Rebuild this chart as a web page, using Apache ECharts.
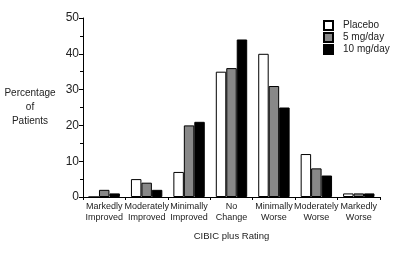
<!DOCTYPE html>
<html>
<head>
<meta charset="UTF-8">
<title>CIBIC plus Rating</title>
<script src="https://cdn.jsdelivr.net/npm/echarts@6/dist/echarts.min.js"></script>
<style>
  html, body { margin: 0; padding: 0; background: #fff; }
  #main { width: 400px; height: 253px; }
</style>
</head>
<body>
<div id="main"></div>
<script>
  // data
  var categories = ['Markedly\nImproved', 'Moderately\nImproved', 'Minimally\nImproved', 'No\nChange',
                    'Minimally\nWorse', 'Moderately\nWorse', 'Markedly\nWorse'];
  var placebo = [0, 5, 7, 35, 40, 12, 1];
  var mg5     = [2, 4, 20, 36, 31, 8, 1];
  var mg10    = [1, 2, 21, 44, 25, 6, 1];
  var yTicks  = [0, 10, 20, 30, 40, 50];

  var font = '"Liberation Sans", Arial, sans-serif';

  var chart = echarts.init(document.getElementById('main'));

  function bar(name, data, fill) {
    return {
      name: name,
      type: 'bar',
      data: data,
      barGap: '0%',
      barCategoryGap: '26%',
      itemStyle: { color: fill, borderColor: '#000', borderWidth: 1 },
      emphasis: { disabled: true }
    };
  }

  var option = {
    animation: false,
    textStyle: { fontFamily: font },
    grid: { left: 83, right: 20, top: 18, bottom: 56, containLabel: false },
    legend: {
      orient: 'vertical',
      left: 318,
      top: 15,
      itemWidth: 9,
      itemHeight: 9,
      itemGap: 1,
      icon: 'rect',
      textStyle: { fontFamily: font, fontSize: 10, color: '#222', padding: [0, 0, 0, 5] },
      data: ['Placebo', '5 mg/day', '10 mg/day']
    },
    xAxis: {
      type: 'category',
      data: categories,
      name: 'CIBIC plus Rating',
      nameLocation: 'middle',
      nameGap: 34,
      nameTextStyle: { fontFamily: font, fontSize: 9.5, color: '#222' },
      axisLine: { lineStyle: { color: '#000', width: 1 } },
      axisTick: { show: true, length: 3, lineStyle: { color: '#000' } },
      axisLabel: { interval: 0, fontFamily: font, fontSize: 9, color: '#222', lineHeight: 11, margin: 4 }
    },
    yAxis: {
      type: 'value',
      min: yTicks[0],
      max: yTicks[yTicks.length - 1],
      interval: 10,
      name: 'Percentage\nof\nPatients',
      nameLocation: 'middle',
      nameRotate: 0,
      nameGap: 53,
      nameTextStyle: { fontFamily: font, fontSize: 10, color: '#222', lineHeight: 14, align: 'center' },
      axisLine: { show: true, lineStyle: { color: '#000', width: 1 } },
      axisTick: { show: true, length: 4, lineStyle: { color: '#000' } },
      minorTick: { show: true, splitNumber: 2, length: 3, lineStyle: { color: '#000' } },
      splitLine: { show: false },
      axisLabel: { fontFamily: font, fontSize: 12, color: '#222', margin: 4 }
    },
    series: [
      bar('Placebo', placebo, '#ffffff'),
      bar('5 mg/day', mg5, '#888888'),
      bar('10 mg/day', mg10, '#000000')
    ]
  };

  chart.setOption(option);
</script>
</body>
</html>
